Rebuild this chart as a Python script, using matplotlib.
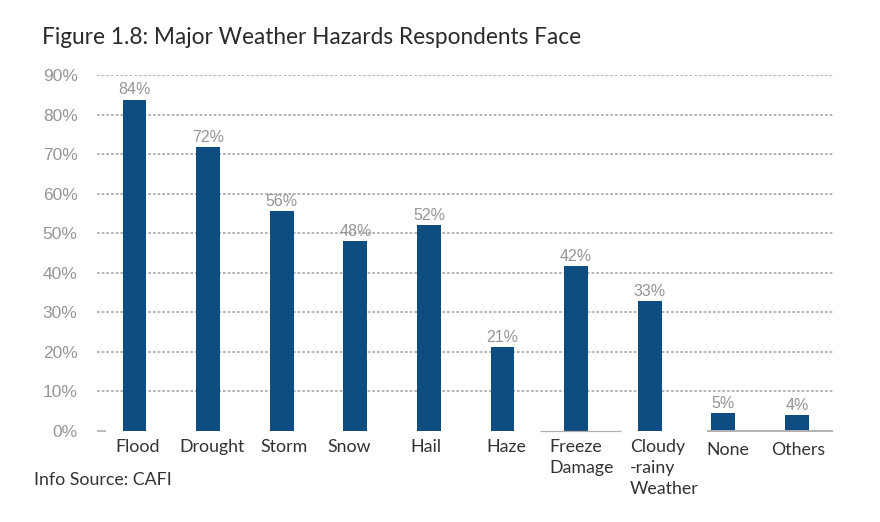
import numpy as np
import matplotlib.pyplot as plt

# Data
categories = ['Flood', 'Drought', 'Storm', 'Snow', 'Hail', 'Haze',
              'Freeze\nDamage', 'Cloudy\n-rainy\nWeather', 'None', 'Others']
# bar heights as measured, they run a little under the printed labels
values = [83.8, 71.8, 55.6, 48, 52, 21.2, 41.6, 32.8, 4.6, 4]
value_labels = ['84%', '72%', '56%', '48%', '52%', '21%', '42%', '33%', '5%', '4%']
yticks = [0, 10, 20, 30, 40, 50, 60, 70, 80, 90]

W, H = 880, 522
BAR = '#0f4c81'
GREY = '#959595'
LABEL_FONT = ['Lato', 'DejaVu Sans']

fig = plt.figure(figsize=(W / 100, H / 100), dpi=100)
ax = fig.add_axes([97 / W, 1 - 431 / H, 736 / W, 356 / H])

x = np.arange(len(categories))
ax.bar(x, values, width=0.325, color=BAR, zorder=3)
ax.set_xlim(-0.51, 9.49)
ax.set_ylim(0, 90)

# Dotted gridlines
for t in yticks[1:]:
    ax.axhline(t, color='#a8a8a8', lw=1.2, ls=(0, (1.6, 1.2)), zorder=1)

# Labels above the bars
for i, v in enumerate(values):
    ax.annotate(value_labels[i], (i, v), xytext=(0, 1.5), textcoords='offset points',
                ha='center', va='bottom', fontsize=11.5, color=GREY,
                family='Liberation Sans')

ax.set_yticks(yticks)
ax.set_yticklabels([f'{t}%' for t in yticks], fontsize=12.5, color=GREY,
                   family='Liberation Sans')
ax.tick_params(axis='y', length=0, pad=14)
ax.set_xticks([])
for s in ax.spines.values():
    s.set_visible(False)


def px_line(x0, x1, y, lw, color='#b0b0b0'):
    fig.add_artist(plt.Line2D([x0 / W, x1 / W], [1 - y / H, 1 - y / H],
                              color=color, lw=lw, solid_capstyle='butt'))


# Broken baseline, as in the source image
px_line(97, 106, 431, 1.2)
px_line(540, 621, 431, 0.9)
px_line(707, 833, 431, 1.4)

# Category labels sit by hand, they don't line up with the bars in the original
label_px = [(115, 439), (179, 439), (260, 439), (327, 439), (410, 439),
            (486, 439), (549, 439), (630, 439), (706, 442), (771, 442)]
for name, (px, py) in zip(categories, label_px):
    fig.text(px / W, 1 - py / H, name, ha='left', va='top', fontsize=12.8, color='#333333',
             family=LABEL_FONT, linespacing=1.4)

fig.text(42 / W, 1 - 37 / H, 'Figure 1.8: Major Weather Hazards Respondents Face',
         ha='left', va='center', fontsize=16.3, color='#2a2a2a', family=LABEL_FONT)
fig.text(34 / W, 1 - 480 / H, 'Info Source: CAFI', ha='left', va='center',
         fontsize=12.8, color='#333333', family=LABEL_FONT)

fig.savefig('out.png', dpi=100)
